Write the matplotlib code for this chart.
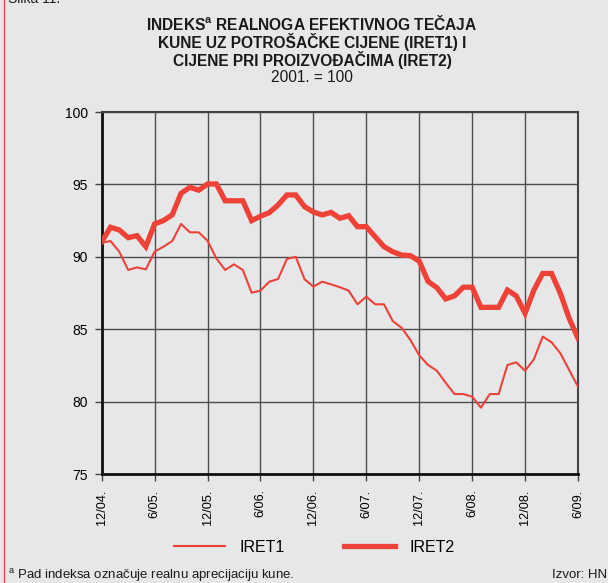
import matplotlib
matplotlib.use("Agg")
import matplotlib.pyplot as plt
from matplotlib.lines import Line2D

plt.rcParams['font.family'] = ['Liberation Sans', 'DejaVu Sans']

# monthly data, 12/2004 - 6/2009
iret1 = [90.97, 91.09, 90.35, 89.09, 89.27, 89.13, 90.35, 90.70, 91.09, 92.27,
         91.69, 91.69, 91.11, 89.89, 89.09, 89.48, 89.09, 87.52, 87.66, 88.28,
         88.47, 89.85, 90.00, 88.45, 87.94, 88.28, 88.10, 87.90, 87.66, 86.72,
         87.25, 86.72, 86.72, 85.56, 85.10, 84.25, 83.20, 82.53, 82.13, 81.30,
         80.52, 80.52, 80.34, 79.58, 80.52, 80.52, 82.53, 82.71, 82.13, 82.92,
         84.49, 84.10, 83.34, 82.18, 81.03]
iret2 = [91.04, 92.04, 91.85, 91.32, 91.46, 90.70, 92.27, 92.50, 92.90, 94.39,
         94.80, 94.60, 95.03, 95.03, 93.87, 93.87, 93.87, 92.50, 92.80, 93.05,
         93.58, 94.27, 94.27, 93.46, 93.10, 92.89, 93.07, 92.66, 92.84, 92.08,
         92.08, 91.39, 90.70, 90.35, 90.12, 90.08, 89.70, 88.30, 87.87, 87.09,
         87.30, 87.90, 87.90, 86.51, 86.51, 86.51, 87.70, 87.30, 86.10, 87.70,
         88.85, 88.85, 87.48, 85.75, 84.37]
months = list(range(len(iret1)))
tick_pos = list(range(0, 55, 6))
tick_labels = ['12/04.', '6/05.', '12/05.', '6/06.', '12/06.',
               '6/07.', '12/07.', '6/08.', '12/08.', '6/09.']

bg = '#e6e7e9'
red = '#ef4136'
W, H = 608, 583

fig = plt.figure(figsize=(W / 100, H / 100), dpi=100, facecolor=bg)
ax = fig.add_axes([101.7 / W, 1 - 474 / H, (578 - 101.7) / W, (474 - 112) / H])
ax.set_facecolor(bg)

ax.plot(months, iret1, color=red, lw=1.5, label='IRET1', zorder=3)
ax.plot(months, iret2, color=red, lw=3.8, label='IRET2', zorder=4,
        solid_joinstyle='miter')

ax.set_xlim(0, 54)
ax.set_ylim(75, 100)
ax.set_yticks([75, 80, 85, 90, 95, 100])
ax.set_xticks(tick_pos)
ax.set_xticklabels(tick_labels, rotation=90, fontsize=9.2, va='top')
ax.tick_params(axis='y', labelsize=10, length=5, width=1, color='#444444', pad=5)
ax.tick_params(axis='x', length=5, width=1, color='#444444', pad=6)
ax.grid(True, color='#4d4d4d', lw=1.0, zorder=1)
ax.set_axisbelow(True)

for s in ['top', 'right']:
    ax.spines[s].set_color('#444444')
    ax.spines[s].set_linewidth(1.5)
for s in ['left', 'bottom']:
    ax.spines[s].set_color('#111111')
    ax.spines[s].set_linewidth(2.0)

# title
cx = 312 / W
tsize = 11.2
fig.text(cx, 1 - 23 / H, 'INDEKS$^{\\mathregular{a}}$ REALNOGA EFEKTIVNOG TEČAJA',
         ha='center', va='center', fontsize=tsize, fontweight='bold',
         color='#1a1a1a')
fig.text(cx, 1 - 42 / H, 'KUNE UZ POTROŠAČKE CIJENE (IRET1) I',
         ha='center', va='center', fontsize=tsize, fontweight='bold',
         color='#1a1a1a')
fig.text(cx, 1 - 60 / H, 'CIJENE PRI PROIZVOĐAČIMA (IRET2)',
         ha='center', va='center', fontsize=tsize, fontweight='bold',
         color='#1a1a1a')
fig.text(cx, 1 - 77 / H, '2001. = 100', ha='center', va='center',
         fontsize=tsize, color='#1a1a1a')

# caption cut off at the top, as in the source page
fig.text(8 / W, 1 - 3 / H, 'Slika 11.', ha='left', va='baseline', fontsize=10,
         color='#1a1a1a')

# legend
fig.legend(loc='center', bbox_to_anchor=(314 / W, 1 - 547 / H), ncol=2,
           frameon=False, fontsize=11.5, handlelength=3.2, handletextpad=0.9,
           columnspacing=3.7)

# footnotes
fig.text(8 / W, 1 - 575 / H,
         '$^{\\mathregular{a}}$ Pad indeksa označuje realnu aprecijaciju kune.',
         ha='left', va='center', fontsize=9.5, color='#1a1a1a')
fig.text(552 / W, 1 - 575 / H, 'Izvor: HNB', ha='left', va='center',
         fontsize=9.5, color='#1a1a1a')

# red frame edge on the left
fig.add_artist(Line2D([3.5 / W, 3.5 / W], [0, 1], color='#e8504a', lw=1.0,
                      transform=fig.transFigure))

fig.savefig('out.png', dpi=100, facecolor=bg)
